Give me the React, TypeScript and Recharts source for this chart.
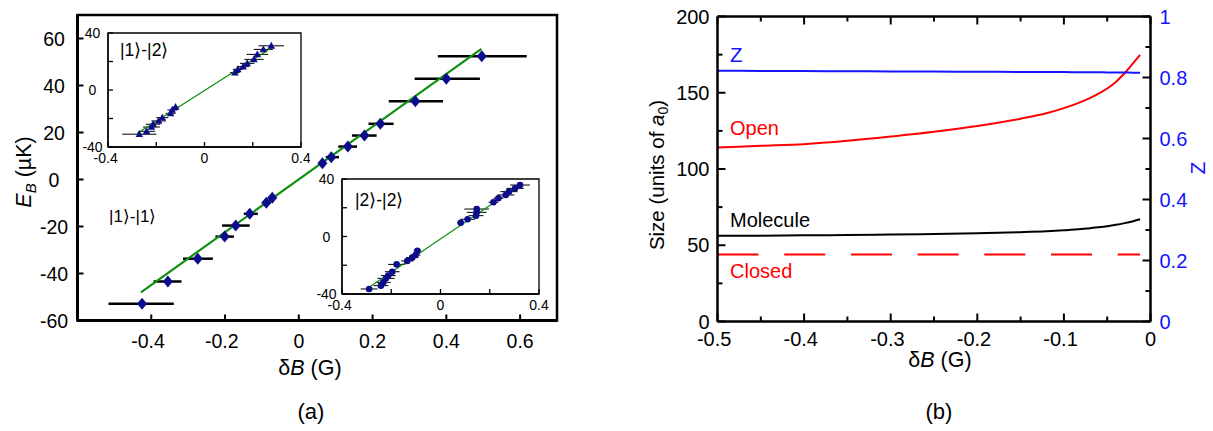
import React from 'react';
import { ComposedChart, Scatter, ErrorBar, XAxis, YAxis, ReferenceArea, LineChart, Line } from 'recharts';

const FONT = '"Liberation Sans", Arial, Helvetica, sans-serif';
const NAVY = '#0c0c8c';
const GREEN = '#109010';
const RED = '#ff0000';
const BLUE = '#1414ff';

// ---------- Panel (a): main data ----------
const aX = [-0.425, -0.355, -0.274, -0.201, -0.171, -0.133, -0.088, -0.072, 0.064, 0.088, 0.133, 0.178, 0.221, 0.316, 0.4, 0.496];
const aE = [-52.9, -43.4, -33.7, -24.3, -19.6, -14.6, -9.9, -7.8, 6.9, 9.5, 14.0, 18.7, 23.7, 33.3, 42.9, 52.5];
const aErrLo = [0.091, 0.039, 0.04, 0.025, 0.037, 0.016, 0.012, 0.01, 0.01, 0.015, 0.026, 0.034, 0.032, 0.072, 0.086, 0.119];
const aErrHi = [0.086, 0.037, 0.041, 0.025, 0.038, 0.022, 0.012, 0.01, 0.01, 0.021, 0.025, 0.033, 0.036, 0.075, 0.091, 0.122];
const aFitX = [-0.428, 0.495];
const aFitE = [-48, 55.6];
const aXTicks = [-0.4, -0.2, 0, 0.2, 0.4, 0.6];
const aYTicks = [-60, -40, -20, 0, 20, 40, 60];

// ---------- Inset |1>-|2> ----------
const i1X = [-0.27, -0.24, -0.22, -0.213, -0.19, -0.175, -0.141, -0.134, -0.12, 0.126, 0.138, 0.16, 0.177, 0.205, 0.219, 0.244, 0.277];
const i1E = [-31, -29, -26, -24, -21.7, -19.4, -16.4, -14, -12, 12.2, 14.5, 16.4, 18.7, 21.5, 25, 28.5, 31];
const i1Err = [0.071, 0.035, 0.035, 0.03, 0.03, 0.025, 0.02, 0.02, 0.015, 0.02, 0.02, 0.025, 0.03, 0.04, 0.045, 0.04, 0.053];
const i1FitX = [-0.28, 0.285];
const i1FitE = [-30.5, 30.4];

// ---------- Inset |2>-|2> ----------
const i2X = [-0.29, -0.242, -0.232, -0.221, -0.212, -0.196, -0.178, -0.135, -0.115, -0.101, -0.094, 0.082, 0.11, 0.144, 0.147, 0.147, 0.215, 0.235, 0.265, 0.278, 0.303, 0.323];
const i2E = [-36.5, -34.2, -31.9, -29.1, -27.2, -24.5, -19.4, -17, -14.7, -12.9, -9.9, 9.6, 12, 14.5, 16.8, 19.1, 23.8, 26.6, 28.9, 31.2, 33.5, 35.8];
const i2Err = [0.034, 0.03, 0.03, 0.035, 0.03, 0.03, 0.035, 0.025, 0.025, 0.02, 0.015, 0.015, 0.03, 0.03, 0.04, 0.05, 0.02, 0.02, 0.035, 0.035, 0.035, 0.04];
const i2FitX = [-0.287, 0.323];
const i2FitE = [-35, 35.8];

const insetXTicks = [-0.4, 0, 0.4];
const insetXMinor = [-0.2, 0.2];
const insetYTicks = [-40, 0, 40];
const insetYMinor = [-20, 20];

// ---------- Panel (b) ----------
const bX = [-0.5, -0.45, -0.4, -0.35, -0.3, -0.25, -0.2, -0.15, -0.12, -0.1, -0.08, -0.07, -0.06, -0.05, -0.04, -0.03, -0.02, -0.012];
const bOpen = [114.1, 115.2, 116.3, 118.5, 121.3, 124.4, 128.2, 133.0, 136.6, 139.9, 144.0, 146.5, 149.4, 152.8, 157.1, 162.8, 169.4, 174.8];
const bMolecule = [56.2, 56.3, 56.5, 56.7, 57.0, 57.4, 57.9, 58.6, 59.2, 59.8, 60.6, 61.2, 61.8, 62.5, 63.4, 64.5, 65.8, 67.0];
const bClosed = [44, 44, 44, 44, 44, 44, 44, 44, 44, 44, 44, 44, 44, 44, 44, 44, 44, 44];
const bZ = [0.822, 0.8215, 0.821, 0.8205, 0.82, 0.8195, 0.819, 0.8183, 0.818, 0.8177, 0.8173, 0.8172, 0.817, 0.8168, 0.8165, 0.8162, 0.8158, 0.8155];
const bXTicks = [-0.5, -0.4, -0.3, -0.2, -0.1, 0];
const bXMinor = [-0.45, -0.35, -0.25, -0.15, -0.05];
const bYTicks = [0, 50, 100, 150, 200];
const bYMinor = [25, 75, 125, 175];
const bZTicks = [0, 0.2, 0.4, 0.6, 0.8, 1];
const bZMinor = [0.1, 0.3, 0.5, 0.7, 0.9];

// ---------- build tables ----------
const aPoints = aX.map((x, i) => ({ x, y: aE[i], ex: [aErrLo[i], aErrHi[i]] }));
const aFit = aFitX.map((x, i) => ({ x, y: aFitE[i] }));
const i1Points = i1X.map((x, i) => ({ x, y: i1E[i], ex: i1Err[i] }));
const i1Fit = i1FitX.map((x, i) => ({ x, y: i1FitE[i] }));
const i2Points = i2X.map((x, i) => ({ x, y: i2E[i], ex: i2Err[i] }));
const i2Fit = i2FitX.map((x, i) => ({ x, y: i2FitE[i] }));
const bTable = bX.map((x, i) => ({ x, open: bOpen[i], molecule: bMolecule[i], closed: bClosed[i], z: bZ[i] }));

// ---------- helpers ----------
const isIn = (arr: number[], v: number) => arr.some((m) => Math.abs(m - v) < 1e-9);
const fmt = (v: number) => (Math.abs(v) < 1e-9 ? '0' : String(v));

type TickOpts = {
  side: 'left' | 'right' | 'bottom' | 'top';
  major: number[];
  len: number;
  minorLen: number;
  lw: number;
  fs?: number;
  color?: string;
  gap?: number;
  anchor?: 'start' | 'middle' | 'end';
};

function makeTick(o: TickOpts) {
  return (p: any) => {
    const v = p.payload.value;
    const major = isIn(o.major, v);
    const L = major ? o.len : o.minorLen;
    const col = o.color || '#000';
    const fs = o.fs || 0;
    if (o.side === 'left') {
      const ax = p.x;
      return (
        <g>
          <line x1={ax} x2={ax + L} y1={p.y} y2={p.y} stroke="#000" strokeWidth={o.lw} />
          {major && fs > 0 && (
            <text x={ax - (o.gap || 0)} y={p.y + 0.36 * fs} textAnchor={o.anchor || 'end'} fontSize={fs} fill={col} fontFamily={FONT}>
              {fmt(v)}
            </text>
          )}
        </g>
      );
    }
    if (o.side === 'right') {
      const ax = p.x;
      return (
        <g>
          <line x1={ax} x2={ax - L} y1={p.y} y2={p.y} stroke="#000" strokeWidth={o.lw} />
          {major && fs > 0 && (
            <text x={ax + (o.gap || 0)} y={p.y + 0.36 * fs} textAnchor="start" fontSize={fs} fill={col} fontFamily={FONT}>
              {fmt(v)}
            </text>
          )}
        </g>
      );
    }
    if (o.side === 'top') {
      const ay = p.y;
      return <line x1={p.x} x2={p.x} y1={ay} y2={ay + L} stroke="#000" strokeWidth={o.lw} />;
    }
    const ay = p.y;
    const shift = v < -1e-9 ? 0.167 * fs : 0;
    return (
      <g>
        <line x1={p.x} x2={p.x} y1={ay} y2={ay - L} stroke="#000" strokeWidth={o.lw} />
        {major && fs > 0 && (
          <text x={p.x - shift} y={ay + (o.gap || 0)} textAnchor="middle" fontSize={fs} fill={col} fontFamily={FONT}>
            {fmt(v)}
          </text>
        )}
      </g>
    );
  };
}

const Diamond = (p: any) => {
  const { cx, cy } = p;
  return <polygon points={`${cx},${cy - 6} ${cx + 5},${cy} ${cx},${cy + 6} ${cx - 5},${cy}`} fill={NAVY} />;
};
const Triangle = (p: any) => {
  const { cx, cy } = p;
  return <polygon points={`${cx},${cy - 4} ${cx + 3.8},${cy + 2.8} ${cx - 3.8},${cy + 2.8}`} fill={NAVY} />;
};
const Dot = (p: any) => <circle cx={p.cx} cy={p.cy} r={3.3} fill={NAVY} />;
const NoShape = () => <g />;

function Inset(props: { left: number; top: number; w: number; h: number; m: any; points: any[]; fit: any[]; shape: any }) {
  const { left, top, w, h, m, points, fit, shape } = props;
  return (
    <div style={{ position: 'absolute', left, top }}>
      <ComposedChart width={w} height={h} margin={m}>
        <XAxis dataKey="x" type="number" domain={[-0.4, 0.4]} allowDataOverflow ticks={[...insetXTicks, ...insetXMinor]} interval={0}
          tickSize={0} tickMargin={0} height={20} axisLine={{ stroke: '#000', strokeWidth: 1.3 }} tickLine={false}
          tick={makeTick({ side: 'bottom', major: insetXTicks, len: 5, minorLen: 5, lw: 1.3, fs: 14, gap: 15.5 })} />
        <YAxis dataKey="y" type="number" domain={[-40, 40]} allowDataOverflow ticks={[...insetYTicks, ...insetYMinor]} interval={0}
          tickSize={0} tickMargin={0} width={30} axisLine={{ stroke: '#000', strokeWidth: 1.3 }} tickLine={false}
          tick={makeTick({ side: 'left', major: insetYTicks, len: 5, minorLen: 5, lw: 1.3, fs: 14, gap: 15.5, anchor: 'middle' })} />
        <ReferenceArea x1={-0.4} x2={0.4} y1={-40} y2={40} fill="none" stroke="#000" strokeWidth={1.3} ifOverflow="visible" />
        <Scatter data={fit} line={{ stroke: GREEN, strokeWidth: 1.2 }} shape={NoShape} isAnimationActive={false} />
        <Scatter data={points} shape={shape} isAnimationActive={false}>
          <ErrorBar dataKey="ex" direction="x" width={0} stroke="#000" strokeWidth={1} />
        </Scatter>
      </ComposedChart>
    </div>
  );
}

export default function App() {
  return (
    <div style={{ position: 'absolute', left: 0, top: 0, width: 1213, height: 431, background: '#fff', overflow: 'hidden' }}>
      {/* Panel (a) main */}
      <div style={{ position: 'absolute', left: 0, top: 0 }}>
        <ComposedChart width={600} height={431} margin={{ top: 15, right: 43, bottom: 70.5, left: 17.5 }}>
          <XAxis dataKey="x" type="number" domain={[-0.6, 0.7]} allowDataOverflow ticks={aXTicks} interval={0}
            tickSize={0} tickMargin={0} height={40} axisLine={{ stroke: '#000', strokeWidth: 3 }} tickLine={false}
            tick={makeTick({ side: 'bottom', major: aXTicks, len: 6, minorLen: 6, lw: 2, fs: 19.5, gap: 27 })} />
          <YAxis dataKey="y" type="number" domain={[-60, 70]} allowDataOverflow ticks={aYTicks} interval={0}
            tickSize={0} tickMargin={0} width={60} axisLine={{ stroke: '#000', strokeWidth: 3 }} tickLine={false}
            tick={makeTick({ side: 'left', major: aYTicks, len: 6, minorLen: 6, lw: 2, fs: 19.5, gap: 23.5, anchor: 'middle' })} />
          <ReferenceArea x1={-0.6} x2={0.7} y1={-60} y2={70} fill="none" stroke="#000" strokeWidth={2.5} ifOverflow="visible" />
          <Scatter data={aFit} line={{ stroke: GREEN, strokeWidth: 2.2 }} shape={NoShape} isAnimationActive={false} />
          <Scatter data={aPoints} shape={Diamond} isAnimationActive={false}>
            <ErrorBar dataKey="ex" direction="x" width={0} stroke="#000" strokeWidth={2.5} />
          </Scatter>
        </ComposedChart>
      </div>

      {/* Inset backgrounds */}
      <div style={{ position: 'absolute', left: 108, top: 33, width: 193, height: 114, background: '#fff' }} />
      <div style={{ position: 'absolute', left: 342, top: 179, width: 197, height: 115, background: '#fff' }} />
      <Inset left={70} top={20} w={240} h={150} m={{ top: 13, right: 9, bottom: 3, left: 8 }} points={i1Points} fit={i1Fit} shape={Triangle} />
      <Inset left={305} top={166} w={245} h={150} m={{ top: 13, right: 11, bottom: 2, left: 7 }} points={i2Points} fit={i2Fit} shape={Dot} />

      {/* Panel (b) */}
      <div style={{ position: 'absolute', left: 600, top: 0 }}>
        <LineChart width={613} height={431} data={bTable} margin={{ top: 15.5, right: 22.5, bottom: 69.5, left: 57.5 }}>
          <XAxis dataKey="x" type="number" domain={[-0.5, 0]} allowDataOverflow ticks={[...bXTicks, ...bXMinor]} interval={0}
            tickSize={0} tickMargin={0} height={40} axisLine={{ stroke: '#000', strokeWidth: 2.5 }} tickLine={false}
            tick={makeTick({ side: 'bottom', major: bXTicks, len: 8, minorLen: 5, lw: 2, fs: 20, gap: 24 })} />
          <XAxis xAxisId="top" orientation="top" dataKey="x" type="number" domain={[-0.5, 0]} allowDataOverflow ticks={[...bXTicks, ...bXMinor]} interval={0}
            tickSize={0} tickMargin={0} height={1} axisLine={{ stroke: '#000', strokeWidth: 2.5 }} tickLine={false}
            tick={makeTick({ side: 'top', major: bXTicks, len: 8, minorLen: 5, lw: 2 })} />
          <YAxis yAxisId="left" type="number" domain={[0, 200]} allowDataOverflow ticks={[...bYTicks, ...bYMinor]} interval={0}
            tickSize={0} tickMargin={0} width={60} axisLine={{ stroke: '#000', strokeWidth: 2.5 }} tickLine={false}
            tick={makeTick({ side: 'left', major: bYTicks, len: 8, minorLen: 5, lw: 2, fs: 20, gap: 8, anchor: 'end' })} />
          <YAxis yAxisId="right" orientation="right" type="number" domain={[0, 1]} allowDataOverflow ticks={[...bZTicks, ...bZMinor]} interval={0}
            tickSize={0} tickMargin={0} width={40} axisLine={{ stroke: '#000', strokeWidth: 2.5 }} tickLine={false}
            tick={makeTick({ side: 'right', major: bZTicks, len: 8, minorLen: 5, lw: 2, fs: 20, gap: 9, color: BLUE })} />
          <Line yAxisId="left" dataKey="closed" stroke={RED} strokeWidth={2} strokeDasharray="41 25.7" dot={false} type="linear" isAnimationActive={false} />
          <Line yAxisId="left" dataKey="molecule" stroke="#000" strokeWidth={2} dot={false} type="monotone" isAnimationActive={false} />
          <Line yAxisId="left" dataKey="open" stroke={RED} strokeWidth={2} dot={false} type="monotone" isAnimationActive={false} />
          <Line yAxisId="right" dataKey="z" stroke={BLUE} strokeWidth={2} dot={false} type="monotone" isAnimationActive={false} />
        </LineChart>
      </div>

      {/* Titles and annotations */}
      <svg width={1213} height={431} style={{ position: 'absolute', left: 0, top: 0, pointerEvents: 'none' }} fontFamily={FONT}>
        {/* (a) */}
        <text transform="translate(31,172) rotate(-90)" textAnchor="middle" fontSize={21.5} fill="#000">
          <tspan fontStyle="italic">E</tspan>
          <tspan fontStyle="italic" fontSize={15} dy={5}>B</tspan>
          <tspan dy={-5}> (µK)</tspan>
        </text>
        <text x={310} y={375} textAnchor="middle" fontSize={21.5} fill="#000">
          δ<tspan fontStyle="italic">B</tspan> (G)
        </text>
        <text x={311} y={419} textAnchor="middle" fontSize={22} fill="#000">(a)</text>
        <text x={109} y={222} fontSize={17} fill="#000">|1⟩-|1⟩</text>
        <text x={120} y={56} fontSize={17.5} fill="#000">|1⟩-|2⟩</text>
        <text x={355} y={206} fontSize={17.5} fill="#000">|2⟩-|2⟩</text>

        {/* (b) */}
        <text transform="translate(664,175) rotate(-90)" textAnchor="middle" fontSize={20.5} fill="#000">
          Size (units of <tspan fontStyle="italic">a</tspan>
          <tspan fontSize={14} dy={4}>0</tspan>
          <tspan dy={-4}>)</tspan>
        </text>
        <text transform="translate(1205,168) rotate(-90)" textAnchor="middle" fontSize={21} fill={BLUE}>Z</text>
        <text x={940} y={367} textAnchor="middle" fontSize={21.5} fill="#000">
          δ<tspan fontStyle="italic">B</tspan> (G)
        </text>
        <text x={939} y={419} textAnchor="middle" fontSize={22} fill="#000">(b)</text>
        <text x={730} y={62} fontSize={20.5} fill={BLUE}>Z</text>
        <text x={730} y={135} fontSize={20} fill={RED}>Open</text>
        <text x={730} y={227} fontSize={20} fill="#000">Molecule</text>
        <text x={730} y={278} fontSize={20} fill={RED}>Closed</text>
      </svg>
    </div>
  );
}
